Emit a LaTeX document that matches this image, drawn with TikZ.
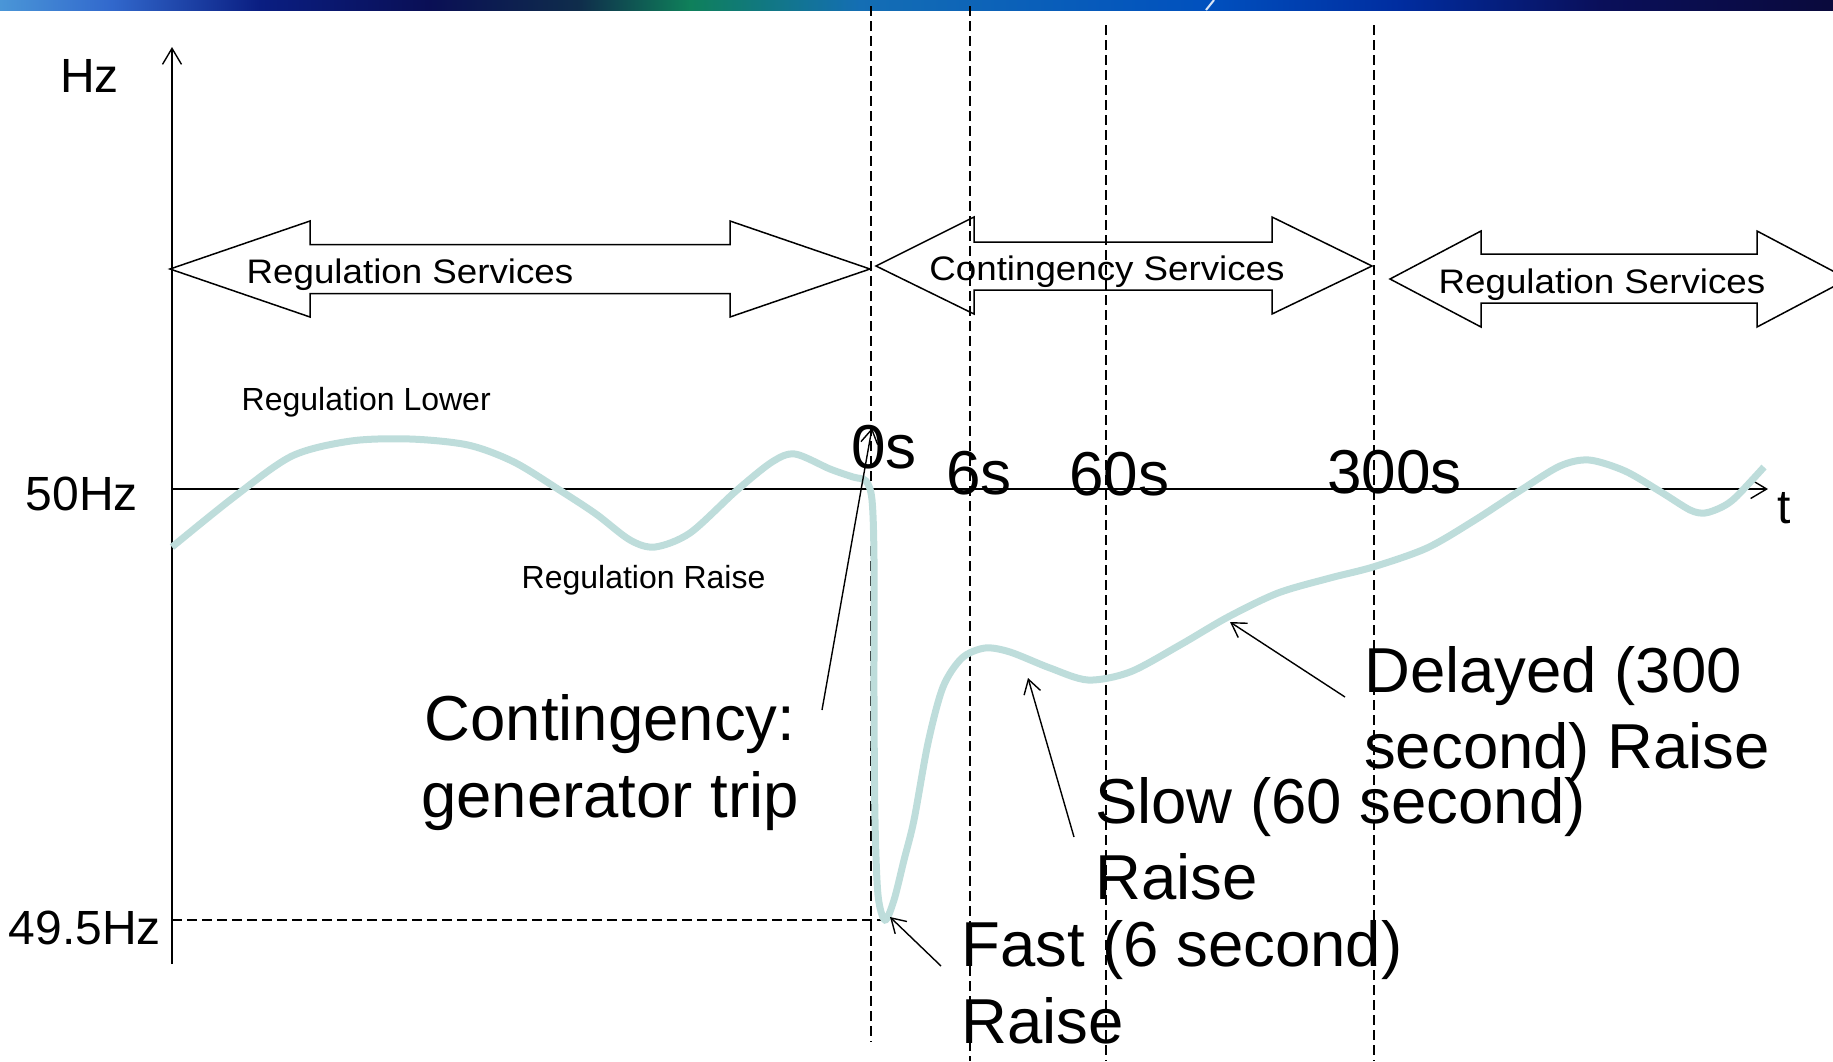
\documentclass[tikz,border=0pt]{standalone}
\usepackage{fontspec}
\setmainfont{Liberation Sans}
\newfontfamily\servfont[FakeStretch=1.08]{Liberation Sans}
\usetikzlibrary{arrows.meta}

\definecolor{freqline}{RGB}{190,221,219}
\definecolor{barA}{RGB}{74,150,215}
\definecolor{barB}{RGB}{50,105,205}
\definecolor{barC}{RGB}{10,30,130}
\definecolor{barD}{RGB}{10,15,85}
\definecolor{barE}{RGB}{15,45,75}
\definecolor{barF}{RGB}{15,128,90}
\definecolor{barG}{RGB}{20,110,180}
\definecolor{barH}{RGB}{0,80,190}
\definecolor{barI}{RGB}{0,45,160}
\definecolor{barJ}{RGB}{10,15,90}
\definecolor{barK}{RGB}{10,10,60}

\begin{document}
\begin{tikzpicture}[
  x=1pt, y=-1pt,
  axis/.style={line width=1.4pt, -{Straight Barb[length=16pt,width=19pt]}},
  guide/.style={line width=1.2pt, dash pattern=on 10pt off 5pt},
  callout/.style={line width=1.4pt, -{Straight Barb[length=14pt,width=17pt]}},
  servarrow/.style={draw, line width=1.5pt, line join=miter},
  freq/.style={draw=freqline, line width=7pt},
  servlbl/.style={inner sep=0pt, font=\servfont\fontsize{34}{40}\selectfont},
  axislbl/.style={inner sep=0pt, font=\fontsize{48}{58}\selectfont},
  timelbl/.style={inner sep=0pt, font=\fontsize{62}{74}\selectfont},
  smalllbl/.style={inner sep=0pt, font=\fontsize{32}{38}\selectfont},
  biglbl/.style={inner sep=0pt, font=\fontsize{63.5}{76.5}\selectfont}
]
\clip (0,0) rectangle (1833,1061);

% header bar
\shade[left color=barA, right color=barB] (0,0) rectangle (110,10);
\shade[left color=barB, right color=barC] (109,0) rectangle (260,10);
\shade[left color=barC, right color=barD] (259,0) rectangle (430,10);
\shade[left color=barD, right color=barE] (429,0) rectangle (580,10);
\shade[left color=barE, right color=barF] (579,0) rectangle (690,10);
\shade[left color=barF, right color=barG] (689,0) rectangle (860,10);
\shade[left color=barG, right color=barH] (859,0) rectangle (1210,10);
\shade[left color=barH, right color=barI] (1209,0) rectangle (1400,10);
\shade[left color=barI, right color=barJ] (1399,0) rectangle (1600,10);
\shade[left color=barJ, right color=barK] (1599,0) rectangle (1833,10);
\draw[white!85!barH, line width=2pt] (1214,0) -- (1206,10);

% time markers
\draw[guide] (871,6) -- (871,1042);
\draw[guide] (970,6) -- (970,1061);
\draw[guide] (1106,25) -- (1106,1061);
\draw[guide] (1374,25) -- (1374,1061);

% axes
\coordinate (yFoot) at (172,964);
\coordinate (yHead) at (172,47);
\coordinate (xFoot) at (172,489);
\coordinate (xHead) at (1768,489);
\coordinate (minLeft) at (172,920);
\coordinate (minPt) at (885,920);
\draw[axis] (yFoot) -- (yHead);
\draw[axis] (xFoot) -- (xHead);
\draw[guide] (minLeft) -- (minPt);

\node[axislbl, anchor=base] (hzLbl) at (89.5,92) {Hz};
\node[axislbl, anchor=base east] (nomLbl) at (138,510) {50Hz};
\node[axislbl, anchor=base east] (lowLbl) at (161,944) {49.5Hz};
\node[axislbl, anchor=base west] (tLbl) at (1777,523) {t};

\node[timelbl, anchor=base west] (t0) at (851,468) {0s};
\node[timelbl, anchor=base west] (t6) at (946,494) {6s};
\node[timelbl, anchor=base west] (t60) at (1069,495) {60s};
\node[timelbl, anchor=base west] (t300) at (1327,493) {300s};

% service bands
\draw[servarrow] (170,269) -- (310,221) -- (310,244.5) -- (730,244.5) -- (730,221) -- (870,269)
  -- (730,317) -- (730,293.5) -- (310,293.5) -- (310,317) -- cycle;
\draw[servarrow] (876,266) -- (974,217) -- (974,242) -- (1272,242) -- (1272,217) -- (1372,266)
  -- (1272,314) -- (1272,290) -- (974,290) -- (974,314) -- cycle;
\draw[servarrow] (1390,279) -- (1481,231) -- (1481,254) -- (1757,254) -- (1757,231) -- (1848,279)
  -- (1757,327) -- (1757,303) -- (1481,303) -- (1481,327) -- cycle;
\node[servlbl, anchor=base] (regA) at (410,283) {Regulation Services};
\node[servlbl, anchor=base] (cont) at (1107,280) {Contingency Services};
\node[servlbl, anchor=base] (regB) at (1602,293) {Regulation Services};

\node[smalllbl, anchor=base west] (regLow) at (241.5,410) {Regulation Lower};
\node[smalllbl, anchor=base west] (regRaise) at (521.5,588) {Regulation Raise};

% frequency trace
\draw[freq] plot[smooth, tension=0.5] coordinates {
  (172,547) (234,497) (292,456) (351,441) (410,439) (468,445) (514,462)
  (561,491) (596,514) (630,540) (655,547) (690,533) (736,491) (772,462)
  (795,454) (830,469) (853,477) (866,481) (872,500) (874,560) (874,700)
  (875,820) (878,895) (885,920) (894,900) (904,860) (914,820) (928,743)
  (943,687) (962,658) (985,648) (1010,652) (1050,668) (1088,680) (1130,672)
  (1180,645) (1228,617) (1278,593) (1330,578) (1373,567) (1427,548)
  (1475,520) (1521,490) (1560,466) (1589,460) (1625,471) (1661,492)
  (1690,510) (1705,513) (1722,507) (1736,497) (1764,467)};

% callouts (base = last line)
\node[biglbl, align=center, anchor=base] (tripLbl) at (610,817) {Contingency:\\generator trip};
\node[biglbl, align=left, anchor=base west] (fastLbl) at (961,1043) {Fast (6 second)\\Raise};
\node[biglbl, align=left, anchor=base west] (slowLbl) at (1095,899.5) {Slow (60 second)\\Raise};
\node[biglbl, align=left, anchor=base west] (delLbl) at (1364,768.5) {Delayed (300\\second) Raise};

\coordinate (tripTail) at (822,710);
\coordinate (tripTip) at (872,428);
\coordinate (fastTail) at (941,966);
\coordinate (fastTip) at (890,917);
\coordinate (slowTail) at (1074,837);
\coordinate (slowTip) at (1028,678);
\coordinate (delTail) at (1345,697);
\coordinate (delTip) at (1230,622);
\draw[callout] (tripTail) -- (tripTip);
\draw[callout] (fastTail) -- (fastTip);
\draw[callout] (slowTail) -- (slowTip);
\draw[callout] (delTail) -- (delTip);
\end{tikzpicture}
\end{document}
